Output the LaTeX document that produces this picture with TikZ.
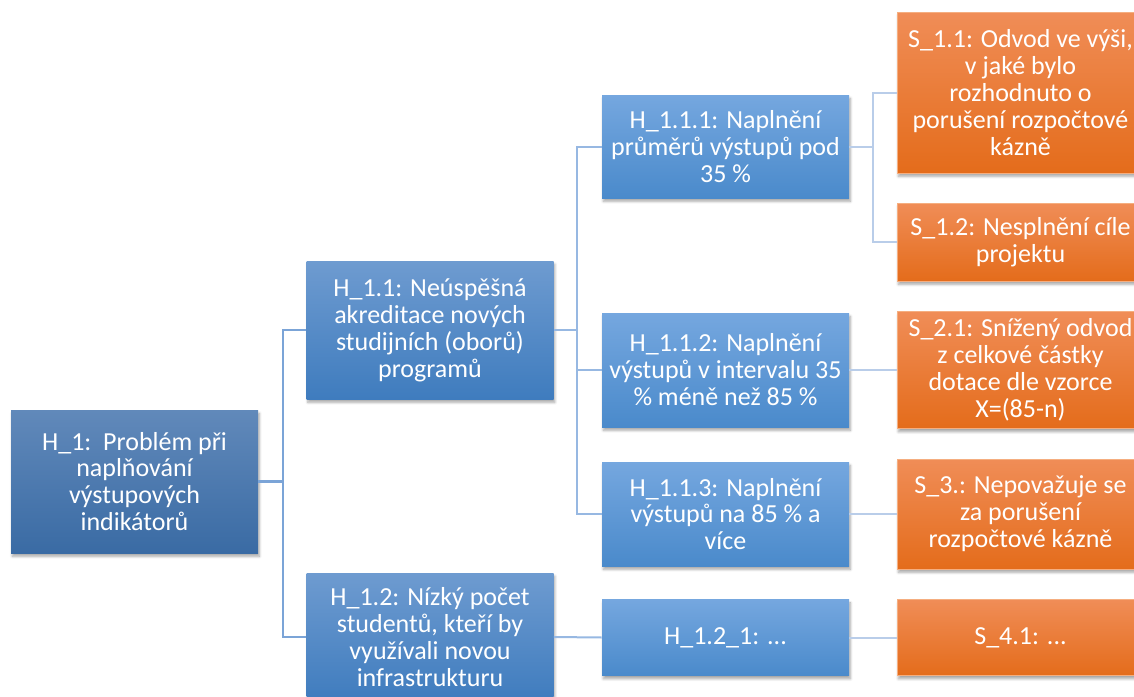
\documentclass[tikz,border=0pt]{standalone}
\usepackage{fontspec}
\setmainfont{Carlito}
\usetikzlibrary{shadows.blur}
\definecolor{rootTop}{HTML}{6189BA}
\definecolor{rootBot}{HTML}{3A6BA4}
\definecolor{midTop}{HTML}{6E9BD0}
\definecolor{midBot}{HTML}{3F7CBE}
\definecolor{leafTop}{HTML}{75A7DF}
\definecolor{leafBot}{HTML}{4A8ACB}
\definecolor{outTop}{HTML}{F08D57}
\definecolor{outBot}{HTML}{E46C1B}
\definecolor{outEdge}{HTML}{F5AE80}
\definecolor{lineA}{HTML}{7BA4D7}
\definecolor{lineB}{HTML}{97B8E2}
\definecolor{lineC}{HTML}{B9CDE9}
\begin{document}
\begin{tikzpicture}[x=0.75pt, y=-0.75pt,
    box/.style = {minimum width=185.25pt, inner sep=1pt, align=center, text=white,
      font=\fontsize{19.5}{20.2}\selectfont,
      blur shadow={shadow xshift=1pt, shadow yshift=-2.5pt, shadow blur steps=6, shadow opacity=35}},
    root/.style = {box, top color=rootTop, bottom color=rootBot},
    mid/.style = {box, top color=midTop, bottom color=midBot},
    leaf/.style = {box, top color=leafTop, bottom color=leafBot},
    sanction/.style = {box, top color=outTop, bottom color=outBot, draw=outEdge, line width=0.6pt},
    linkA/.style = {draw=lineA, line width=1.7pt},
    linkB/.style = {draw=lineB, line width=1.5pt},
    linkC/.style = {draw=lineC, line width=1.5pt}]
    \useasboundingbox (0,0) rectangle (1134,696);
    % hypotheses
    \node[root, minimum height=107.25pt] (h1) at (134.5,481.5) {H\_1:\ \ Problém při\\naplňování\\výstupových\\indikátorů};
    \node[mid, minimum height=103.5pt] (h11) at (430,330) {H\_1.1: Neúspěšná\\akreditace nových\\studijních (oborů)\\programů};
    \node[mid, minimum height=96pt] (h12) at (430,637) {H\_1.2: Nízký počet\\studentů, kteří by\\využívali novou\\infrastrukturu};
    \node[leaf, minimum height=77.25pt] (h111) at (725.5,146.5) {H\_1.1.1: Naplnění\\průměrů výstupů pod\\35 \%};
    \node[leaf, minimum height=85.5pt] (h112) at (725.5,370) {H\_1.1.2: Naplnění\\výstupů v intervalu 35\\\% méně než 85 \%};
    \node[leaf, minimum height=78pt] (h113) at (725.5,514) {H\_1.1.3: Naplnění\\výstupů na 85 \% a\\více};
    \node[leaf, minimum height=57pt] (h121) at (725.5,637.5) {H\_1.2\_1: ...};
    % sanctions
    \node[sanction, minimum height=120.75pt] (s11) at (1020.5,92.5) {S\_1.1: Odvod ve výši,\\v jaké bylo\\rozhodnuto o\\porušení rozpočtové\\kázně};
    \node[sanction, minimum height=58.5pt] (s12) at (1020.5,242) {S\_1.2: Nesplnění cíle\\projektu};
    \node[sanction, minimum height=87.75pt] (s21) at (1020.5,370) {S\_2.1: Snížený odvod\\z celkové částky\\dotace dle vzorce\\X=(85-n)};
    \node[sanction, minimum height=82.5pt] (s3) at (1020.5,514) {S\_3.: Nepovažuje se\\za porušení\\rozpočtové kázně};
    \node[sanction, minimum height=57pt] (s41) at (1020.5,637.5) {S\_4.1: ...};
    %
    \draw[linkA] (h1.east) -- ++(24.5,0) |- (h11.west);
    \draw[linkA] (h1.east) -- ++(24.5,0) |- (h12.west);
    \draw[linkB] (h11.east) -- ++(23,0) |- (h111.west);
    \draw[linkB] (h11.east) -- ++(23,0) |- (h112.west);
    \draw[linkB] (h11.east) -- ++(23,0) |- (h113.west);
    \draw[linkB] (h12.east) -- (h121.west);
    \draw[linkC] (h111.east) -- ++(24,0) |- (s11.west);
    \draw[linkC] (h111.east) -- ++(24,0) |- (s12.west);
    \draw[linkC] (h112.east) -- (s21.west);
    \draw[linkC] (h113.east) -- (s3.west);
    \draw[linkC] (h121.east) -- (s41.west);
\end{tikzpicture}
\end{document}
